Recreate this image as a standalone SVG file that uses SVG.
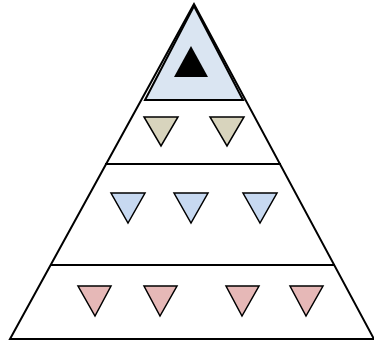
<svg xmlns="http://www.w3.org/2000/svg" width="374" height="342" viewBox="0 0 374 342">
<style>
.ln{fill:none;stroke:#000;stroke-width:2;stroke-linejoin:miter}
.tri{stroke:#000;stroke-width:1.5;stroke-linejoin:miter}
.tan{fill:#d8d4bd}
.blu{fill:#c7d9f1}
.pnk{fill:#e6b8b7}
</style>
<rect width="374" height="342" fill="#fff"/>
<g id="pyramid">
<polygon class="ln" points="194,4 10,339 374,339"/>
</g>
<g id="top">
<polygon points="194,6 145,100 243,100" fill="#dae5f2" stroke="#000" stroke-width="2"/>
<polygon points="191,46 174,77 208,77" fill="#000"/>
</g>
<g id="dividers">
<line class="ln" x1="105" y1="164" x2="281" y2="164"/>
<line class="ln" x1="50" y1="265" x2="335" y2="265"/>
</g>
<g id="row2">
<polygon class="tri tan" points="144,117 178,117 161,146"/>
<polygon class="tri tan" points="210,117 244,117 227,146"/>
</g>
<g id="row3">
<polygon class="tri blu" points="111,193 145,193 128,223"/>
<polygon class="tri blu" points="174,193 208,193 191,223"/>
<polygon class="tri blu" points="243,193 277,193 260,223"/>
</g>
<g id="row4">
<polygon class="tri pnk" points="78,286 111,286 95,316"/>
<polygon class="tri pnk" points="144,286 177,286 160,316"/>
<polygon class="tri pnk" points="226,286 259,286 242,316"/>
<polygon class="tri pnk" points="290,286 323,286 306,316"/>
</g>
</svg>
